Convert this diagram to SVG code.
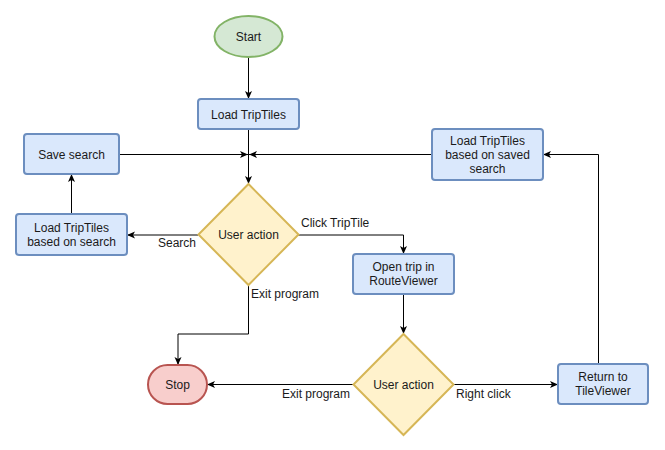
<svg xmlns="http://www.w3.org/2000/svg" width="665" height="450" viewBox="0 0 665 450">
<defs>
<style>
text{font-family:"Liberation Sans",Arial,Helvetica,sans-serif;font-size:12px;fill:#1a1a1a}
.c{text-anchor:middle}
.e{text-anchor:end}
.blue{fill:#dae8fc;stroke:#6c8ebf;stroke-width:2}
.green{fill:#d5e8d4;stroke:#82b366;stroke-width:2}
.yellow{fill:#fff2cc;stroke:#d6b656;stroke-width:2}
.red{fill:#f8cecc;stroke:#b85450;stroke-width:2}
.edge{fill:none;stroke:#000;stroke-width:1;marker-end:url(#arr)}
.line{fill:none;stroke:#000;stroke-width:1}
</style>
<marker id="arr" viewBox="0 0 8 8" refX="8" refY="4" markerWidth="8" markerHeight="8" markerUnits="userSpaceOnUse" orient="auto">
<path d="M0,0.5 L8,4 L0,7.5 L2,4 Z" fill="#000"/>
</marker>
</defs>
<rect width="665" height="450" fill="#fff"/>
<g id="connectors">
<path class="edge" d="M248.5,57 V99"/>
<path class="edge" d="M248.5,129 V184"/>
<path class="edge" d="M119,154.5 H248"/>
<path class="edge" d="M432,154.5 H249"/>
<path class="edge" d="M198,235 H127"/>
<path class="edge" d="M71.5,214 V174"/>
<path class="edge" d="M298,235 H403.5 V254"/>
<path class="edge" d="M248.5,285 V334 H178 V365"/>
<path class="edge" d="M403.5,294 V334"/>
<path class="edge" d="M353,384.5 H207"/>
<path class="edge" d="M453,384.5 H558"/>
<path class="edge" d="M598.5,364 V154.5 H543"/>
<text x="196" y="247" class="e">Search</text>
<text x="301" y="227">Click TripTile</text>
<text x="251" y="298">Exit program</text>
<text x="350" y="398" class="e">Exit program</text>
<text x="456" y="398">Right click</text>
</g>
<g id="start">
<ellipse class="green" cx="248.5" cy="36.5" rx="34" ry="20.5"/>
<text x="248.5" y="41" class="c">Start</text>
</g>
<g id="load-triptiles">
<rect class="blue" x="198" y="99" width="101" height="30" rx="3"/>
<text x="248.5" y="118.5" class="c">Load TripTiles</text>
</g>
<g id="save-search">
<rect class="blue" x="24" y="134" width="95" height="40" rx="3"/>
<text x="71.5" y="158.5" class="c">Save search</text>
</g>
<g id="load-based-on-search">
<rect class="blue" x="16" y="214" width="111" height="41" rx="3"/>
<text x="71.5" y="232" class="c">Load TripTiles</text>
<text x="71.5" y="246" class="c">based on search</text>
</g>
<g id="load-based-on-saved">
<rect class="blue" x="432" y="129" width="111" height="51" rx="3"/>
<text x="487.5" y="145" class="c">Load TripTiles</text>
<text x="487.5" y="159" class="c">based on saved</text>
<text x="487.5" y="173" class="c">search</text>
</g>
<g id="user-action-1">
<polygon class="yellow" points="248.5,184 298.5,234.5 248.5,285 198.5,234.5"/>
<text x="248.5" y="239" class="c">User action</text>
</g>
<g id="open-trip">
<rect class="blue" x="353" y="254" width="101" height="40" rx="3"/>
<text x="403.5" y="271" class="c">Open trip in</text>
<text x="403.5" y="285" class="c">RouteViewer</text>
</g>
<g id="user-action-2">
<polygon class="yellow" points="403.5,334 453.5,384.5 403.5,435 353.5,384.5"/>
<text x="403.5" y="389" class="c">User action</text>
</g>
<g id="stop">
<rect class="red" x="148" y="365" width="59" height="39" rx="19.5"/>
<text x="177.5" y="389" class="c">Stop</text>
</g>
<g id="return-tileviewer">
<rect class="blue" x="558" y="364" width="90" height="40" rx="3"/>
<text x="603" y="381" class="c">Return to</text>
<text x="603" y="395" class="c">TileViewer</text>
</g>
</svg>
